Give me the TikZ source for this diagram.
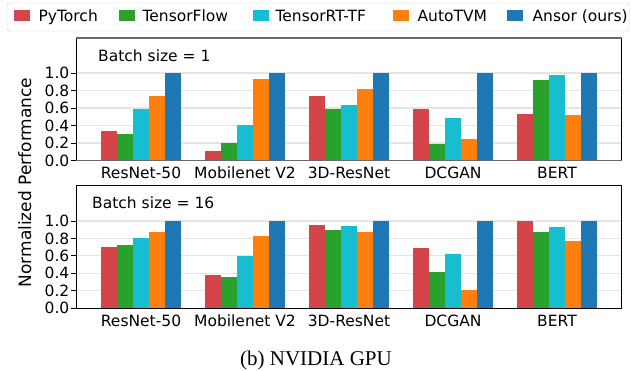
\documentclass[tikz,border=0pt]{standalone}
\usepackage{fontspec}
\setmainfont{DejaVu Sans}
\newfontfamily\capfont{Liberation Serif}
\usetikzlibrary{positioning}

\definecolor{fw0}{RGB}{212,68,72}
\definecolor{fw1}{RGB}{44,160,44}
\definecolor{fw2}{RGB}{23,190,207}
\definecolor{fw3}{RGB}{255,127,14}
\definecolor{fw4}{RGB}{31,119,180}
\definecolor{gridgray}{RGB}{228,228,228}
\definecolor{spinegray}{RGB}{105,105,105}
\definecolor{legendgray}{RGB}{210,210,210}

\begin{document}
\begin{tikzpicture}[x=1pt,y=1pt,
	lbl/.style={font=\fontsize{15.5}{16}\selectfont, inner sep=0pt, text height=11.3pt, text depth=0pt},
	ticklabel/.style={lbl, anchor=east},
	grouplabel/.style={lbl, anchor=center},
	gridline/.style={gridgray, line width=1.2pt},
	swatch/.style={minimum width=16pt, minimum height=11pt, inner sep=0pt, anchor=west}]
	
	\useasboundingbox (0,0) rectangle (631,370);
	
	% Legend
	\draw[legendgray, rounded corners=3pt] (7,339) rectangle (629,367);
	\node[swatch, fill=fw0] (sw0) at (14,354) {};
	\node[lbl, right=8pt of sw0] (lg0) {PyTorch};
	\node[swatch, fill=fw1] (sw1) at (119,354) {};
	\node[lbl, right=7pt of sw1] (lg1) {TensorFlow};
	\node[swatch, fill=fw2] (sw2) at (253,354) {};
	\node[lbl, right=6pt of sw2] (lg2) {TensorRT-TF};
	\node[swatch, fill=fw3] (sw3) at (393,354) {};
	\node[lbl, right=8pt of sw3] (lg3) {AutoTVM};
	\node[swatch, fill=fw4] (sw4) at (507,354) {};
	\node[lbl, right=9pt of sw4] (lg4) {Ansor (ours)};
	
	% Batch size = 1
	\begin{scope}[shift={(0,209.5)}, yscale=87.5]
		% Draw grid lines
		\foreach \t in {0.2,0.4,0.6,0.8,1.0}
			\draw[gridline] (76,\t) -- (621,\t);
		
		% Draw bars
		\foreach \vals [count=\g from 0] in {{0.34,0.30,0.59,0.74,1.0},{0.11,0.20,0.41,0.93,1.0},{0.74,0.59,0.63,0.82,1.0},{0.59,0.19,0.49,0.25,1.0},{0.53,0.92,0.98,0.52,1.0}}
			\foreach \v [count=\j from 0] in \vals
				\fill[fw\j] (101+104*\g+16*\j,0) rectangle ++(16,\v);
		
		% Draw ticks
		\foreach \t [count=\k] in {0.0,0.2,0.4,0.6,0.8,1.0} {
			\draw[line width=0.8pt] (71,\t) -- (76,\t);
			\node[ticklabel] (ta\k) at (69.5,\t) {\t};
		}
	\end{scope}
	
	% Draw frame
	\draw[line width=0.9pt] (76,209.5) -- (76,332);
	\draw[line width=0.9pt] (621,209.5) -- (621,332);
	\draw[spinegray, line width=1.6pt] (75.5,332) -- (621.5,332);
	\draw[spinegray, line width=1.6pt] (75.5,209.5) -- (621.5,209.5);
	
	\node[lbl, anchor=west] (batcha) at (98,314.5) {Batch size = 1};
	\foreach \name [count=\g from 0] in {ResNet-50,Mobilenet V2,3D-ResNet,DCGAN,BERT}
		\node[grouplabel] (xa\g) at (141+104*\g,197) {\name};
	
	% Batch size = 16
	\begin{scope}[shift={(0,62)}, yscale=87]
		% Draw grid lines
		\foreach \t in {0.2,0.4,0.6,0.8,1.0}
			\draw[gridline] (76,\t) -- (621,\t);
		
		% Draw bars
		\foreach \vals [count=\g from 0] in {{0.70,0.72,0.80,0.87,1.0},{0.38,0.36,0.60,0.83,1.0},{0.95,0.90,0.94,0.87,1.0},{0.69,0.41,0.62,0.21,1.0},{1.0,0.87,0.93,0.77,1.0}}
			\foreach \v [count=\j from 0] in \vals
				\fill[fw\j] (101+104*\g+16*\j,0) rectangle ++(16,\v);
		
		% Draw ticks
		\foreach \t [count=\k] in {0.0,0.2,0.4,0.6,0.8,1.0} {
			\draw[line width=0.8pt] (71,\t) -- (76,\t);
			\node[ticklabel] (tb\k) at (69.5,\t) {\t};
		}
	\end{scope}
	
	% Draw frame
	\draw[line width=0.9pt] (76,62) rectangle (621,185);
	
	\node[lbl, anchor=west] (batchb) at (92,167) {Batch size = 16};
	\foreach \name [count=\g from 0] in {ResNet-50,Mobilenet V2,3D-ResNet,DCGAN,BERT}
		\node[grouplabel] (xb\g) at (141+104*\g,49) {\name};
	
	% Axis title and caption
	\node[lbl, font=\fontsize{17}{18}\selectfont, text height=12.4pt, rotate=90] (ylab) at (25,187.5) {Normalized Performance};
	\node[font=\capfont\fontsize{21}{24}\selectfont, inner sep=0pt, text height=13.9pt, text depth=0pt] (caption) at (316,11) {(b) NVIDIA GPU};
	
\end{tikzpicture}
\end{document}
